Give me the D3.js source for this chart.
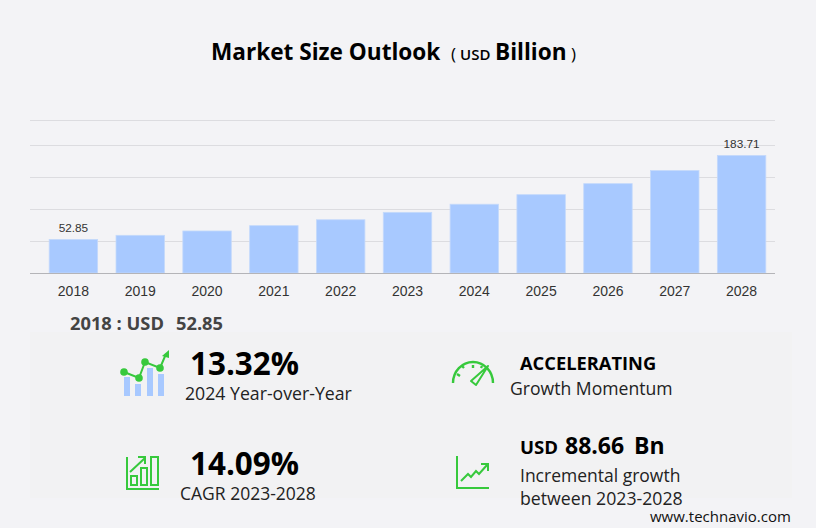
<!DOCTYPE html>
<html>
<head>
<meta charset="utf-8">
<script src="https://cdn.jsdelivr.net/npm/d3@7"></script>
<style>
  html, body { margin: 0; padding: 0; background: #f3f3f6; overflow: hidden; }
  text { font-family: "Open Sans", "Noto Sans", sans-serif; }
  .tick-label, .bar-label { font-family: "Liberation Sans", Arial, sans-serif; }
</style>
</head>
<body>
<svg id="chart" width="816" height="528"></svg>
<script>
// chart data
const years = ["2018", "2019", "2020", "2021", "2022", "2023", "2024", "2025", "2026", "2027", "2028"];
const marketSize = [52.85, 59.2, 66, 74.3, 83.5, 95.05, 107.7, 122.6, 139.8, 160.2, 183.71];
const gridValues = [50, 100, 150, 200, 238];
const labelledYears = ["2018", "2028"];

const svg = d3.select("#chart");
const green = "#37c93c";
const barBlue = "#a8c9ff";

// lower panel
svg.append("rect").attr("x", 30).attr("y", 332).attr("width", 762).attr("height", 166).attr("fill", "#f2f2f3");

// title
const title = svg.append("text").attr("x", 211).attr("y", 60).attr("fill", "#000").attr("font-size", 22.6).attr("font-weight", 700);
title.append("tspan").text("Market Size Outlook");
title.append("tspan").attr("x", 451).attr("font-size", 17).attr("font-weight", 400).text("(");
title.append("tspan").attr("x", 460).attr("font-size", 15).attr("font-weight", 600).text("USD");
title.append("tspan").attr("x", 495).text("Billion");
title.append("tspan").attr("x", 571).attr("font-size", 17).attr("font-weight", 400).text(")");

// scales
const x = d3.scaleBand().domain(years).range([40, 775]).paddingInner(0.275).paddingOuter(0.1375);
const y = d3.scaleLinear().domain([0, 237]).range([273, 121]);

// grid lines
svg.append("g").selectAll("line").data(gridValues).join("line")
  .attr("x1", 30).attr("x2", 775)
  .attr("y1", d => Math.round(y(d)) + 0.5).attr("y2", d => Math.round(y(d)) + 0.5)
  .attr("stroke", "#dcdce0").attr("stroke-width", 1);

// bars
svg.append("g").selectAll("rect").data(years).join("rect")
  .attr("x", d => x(d))
  .attr("y", (d, i) => y(marketSize[i]) + 0.3)
  .attr("width", x.bandwidth())
  .attr("height", (d, i) => y(0) - y(marketSize[i]) - 0.3)
  .attr("fill", barBlue)
  .attr("stroke", "#c4d9fb")
  .attr("stroke-width", 0.8);

// baseline + x axis labels
svg.append("line").attr("x1", 30).attr("x2", 775).attr("y1", 273.5).attr("y2", 273.5).attr("stroke", "#b4b4b8");
svg.append("g").selectAll("text").data(years).join("text")
  .attr("class", "tick-label")
  .attr("x", d => x(d) + x.bandwidth() / 2)
  .attr("y", 296)
  .attr("text-anchor", "middle")
  .attr("font-size", 14)
  .attr("fill", "#333")
  .text(d => d);

// value labels on first and last bars
svg.append("g").selectAll("text").data(labelledYears).join("text")
  .attr("class", "bar-label")
  .attr("x", d => x(d) + x.bandwidth() / 2)
  .attr("y", d => y(marketSize[years.indexOf(d)]) - 7.5)
  .attr("text-anchor", "middle")
  .attr("font-size", 11.8)
  .attr("fill", "#333")
  .text(d => marketSize[years.indexOf(d)].toFixed(2));

// selected year line
const yearLine = svg.append("text").attr("x", 70).attr("y", 330).attr("font-size", 18.3).attr("font-weight", 700).attr("fill", "#444");
yearLine.append("tspan").text("2018 : USD");
yearLine.append("tspan").attr("x", 176).text("52.85");

// KPI text blocks
function kpiText(px, py, size, weight, color, str) {
  return svg.append("text").attr("x", px).attr("y", py).attr("font-size", size).attr("font-weight", weight).attr("fill", color).text(str);
}
kpiText(190, 375, 31.4, 700, "#000", "13.32%");
kpiText(185, 400, 17.7, 400, "#222", "2024 Year-over-Year");
kpiText(190, 475, 31.4, 700, "#000", "14.09%");
kpiText(180, 500, 17.5, 400, "#222", "CAGR 2023-2028");
kpiText(520, 370, 18.3, 700, "#000", "ACCELERATING");
kpiText(510, 395, 17.6, 400, "#222", "Growth Momentum");
kpiText(520, 454, 18.6, 700, "#000", "USD");
kpiText(565, 454, 23, 700, "#000", "88.66");
kpiText(634, 454, 23, 700, "#000", "Bn");
kpiText(520, 482, 17.5, 400, "#222", "Incremental growth");
kpiText(520, 505, 17.7, 400, "#222", "between 2023-2028");
kpiText(650, 522, 15, 400, "#111", "www.technavio.com");

// icon: bars with trend line
const icon1 = svg.append("g").attr("transform", "translate(100,335)");
[[24, 42], [35, 49], [47, 33], [58, 39]].forEach(b => {
  icon1.append("rect").attr("x", b[0]).attr("y", b[1]).attr("width", 6).attr("height", 61 - b[1]).attr("fill", barBlue);
});
icon1.append("path").attr("d", "M24,37 L39,43 L45,27 L60,33 L66,19").attr("fill", "none").attr("stroke", green).attr("stroke-width", 2);
[[24, 37], [39, 43], [45, 27], [60, 33]].forEach(p => icon1.append("circle").attr("cx", p[0]).attr("cy", p[1]).attr("r", 3.8).attr("fill", green));
icon1.append("path").attr("d", "M69,15 L62,21 L69,23 Z").attr("fill", green);

// icon: framed bars with arrow
const icon2 = svg.append("g").attr("transform", "translate(100,335)").attr("fill", "none").attr("stroke", green).attr("stroke-width", 2);
icon2.append("path").attr("d", "M27,122 V154 H59");
icon2.append("rect").attr("x", 31).attr("y", 141).attr("width", 6).attr("height", 9);
icon2.append("rect").attr("x", 41).attr("y", 133).attr("width", 6).attr("height", 17);
icon2.append("rect").attr("x", 51).attr("y", 122).attr("width", 7).attr("height", 28);
icon2.append("path").attr("d", "M30,137 L45,123 M38,122 H45 V129");

// icon: gauge
const icon3 = svg.append("g").attr("transform", "translate(440,335)").attr("fill", "none").attr("stroke", green).attr("stroke-width", 2.4);
icon3.append("path").attr("d", "M13,48 A20,21 0 0 1 33,27 A20,21 0 0 1 53,48");
icon3.append("path").attr("d", "M20,41 L17,39 M24,33 L22,31 M33,30 V33 M42,31 L41,33");
icon3.append("path").attr("d", "M31,46 L48,31 L36,50 Z").attr("stroke-linejoin", "round").attr("stroke-width", 2);

// icon: line chart with axes
const icon4 = svg.append("g").attr("transform", "translate(440,335)").attr("fill", "none").attr("stroke", green).attr("stroke-width", 2);
icon4.append("path").attr("d", "M17,121 V153 H49");
icon4.append("path").attr("d", "M21,146 L28,139 L31,142 L36,136 L39,139 L47,130 M41,129 H48 V136");
</script>
</body>
</html>
